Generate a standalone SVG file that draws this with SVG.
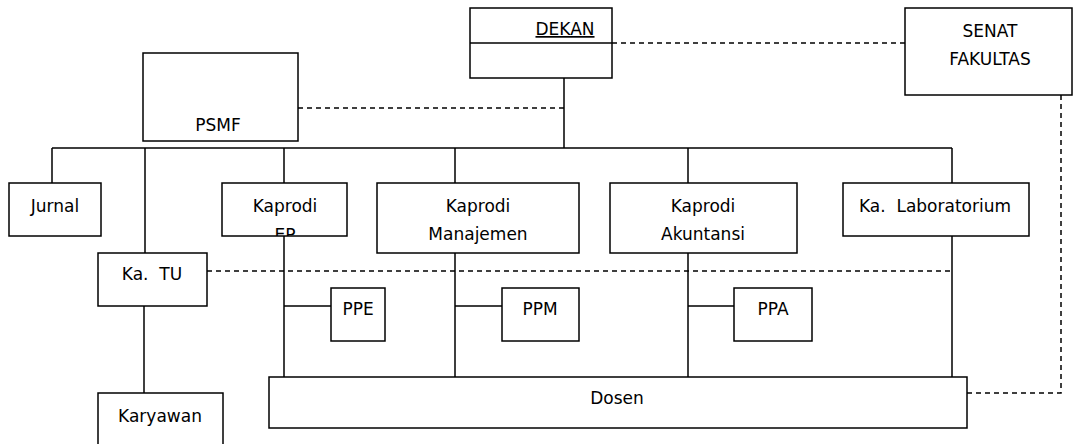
<svg xmlns="http://www.w3.org/2000/svg" width="1076" height="444" viewBox="0 0 1076 444">
<style>
.b{fill:#fff;stroke:#000;stroke-width:1.5}
.l{fill:none;stroke:#000;stroke-width:1.5}
.d{fill:none;stroke:#000;stroke-width:1.5;stroke-dasharray:5 4}
text{font-family:"DejaVu Sans",Verdana,sans-serif;font-size:17px;fill:#000;text-anchor:middle;white-space:pre}
</style>
<defs>
<clipPath id="cEP"><rect x="222" y="183" width="125" height="53"/></clipPath>
</defs>
<g id="connectors">
<path class="l" d="M564 78V148M52 148H952M52 148V183M145 148V253M284 148V183M455 148V183M688 148V183M952 148V183"/>
<path class="l" d="M144 306V393"/>
<path class="l" d="M284 236V377M284 306H331M455 253V377M455 306H502M688 253V377M688 306H734M952 236V377"/>
<path class="d" d="M612 43H905M298 108H564M207 271H952M1061 95V393H967"/>
</g>
<g id="dekan"><rect class="b" x="470" y="8" width="142" height="70"/><line class="l" x1="470" y1="43" x2="612" y2="43"/><text x="565" y="35" text-decoration="underline">DEKAN</text></g>
<g id="senat"><rect class="b" x="905" y="8" width="167" height="87"/><text x="990" y="37">SENAT</text><text x="990" y="65">FAKULTAS</text></g>
<g id="psmf"><rect class="b" x="143" y="53" width="155" height="88"/><text x="218" y="131">PSMF</text></g>
<g id="jurnal"><rect class="b" x="9" y="183" width="92" height="53"/><text x="55" y="212">Jurnal</text></g>
<g id="kaprodi-ep"><rect class="b" x="222" y="183" width="125" height="53"/><text x="285" y="212">Kaprodi</text><text x="285" y="241" clip-path="url(#cEP)">EP</text></g>
<g id="kaprodi-manajemen"><rect class="b" x="377" y="183" width="202" height="70"/><text x="478" y="212">Kaprodi</text><text x="478" y="240">Manajemen</text></g>
<g id="kaprodi-akuntansi"><rect class="b" x="610" y="183" width="187" height="70"/><text x="703" y="212">Kaprodi</text><text x="703" y="240">Akuntansi</text></g>
<g id="ka-lab"><rect class="b" x="843" y="183" width="186" height="53"/><text x="935" y="212" xml:space="preserve">Ka.  Laboratorium</text></g>
<g id="ka-tu"><rect class="b" x="98" y="253" width="109" height="53"/><text x="152" y="280" xml:space="preserve">Ka.  TU</text></g>
<g id="ppe"><rect class="b" x="331" y="288" width="54" height="53"/><text x="358" y="315">PPE</text></g>
<g id="ppm"><rect class="b" x="502" y="288" width="77" height="53"/><text x="540" y="315">PPM</text></g>
<g id="ppa"><rect class="b" x="734" y="288" width="78" height="53"/><text x="773" y="315">PPA</text></g>
<g id="dosen"><rect class="b" x="269" y="377" width="698" height="51"/><text x="617" y="404">Dosen</text></g>
<g id="karyawan"><rect class="b" x="98" y="393" width="125" height="60"/><text x="160" y="422">Karyawan</text></g>
</svg>
